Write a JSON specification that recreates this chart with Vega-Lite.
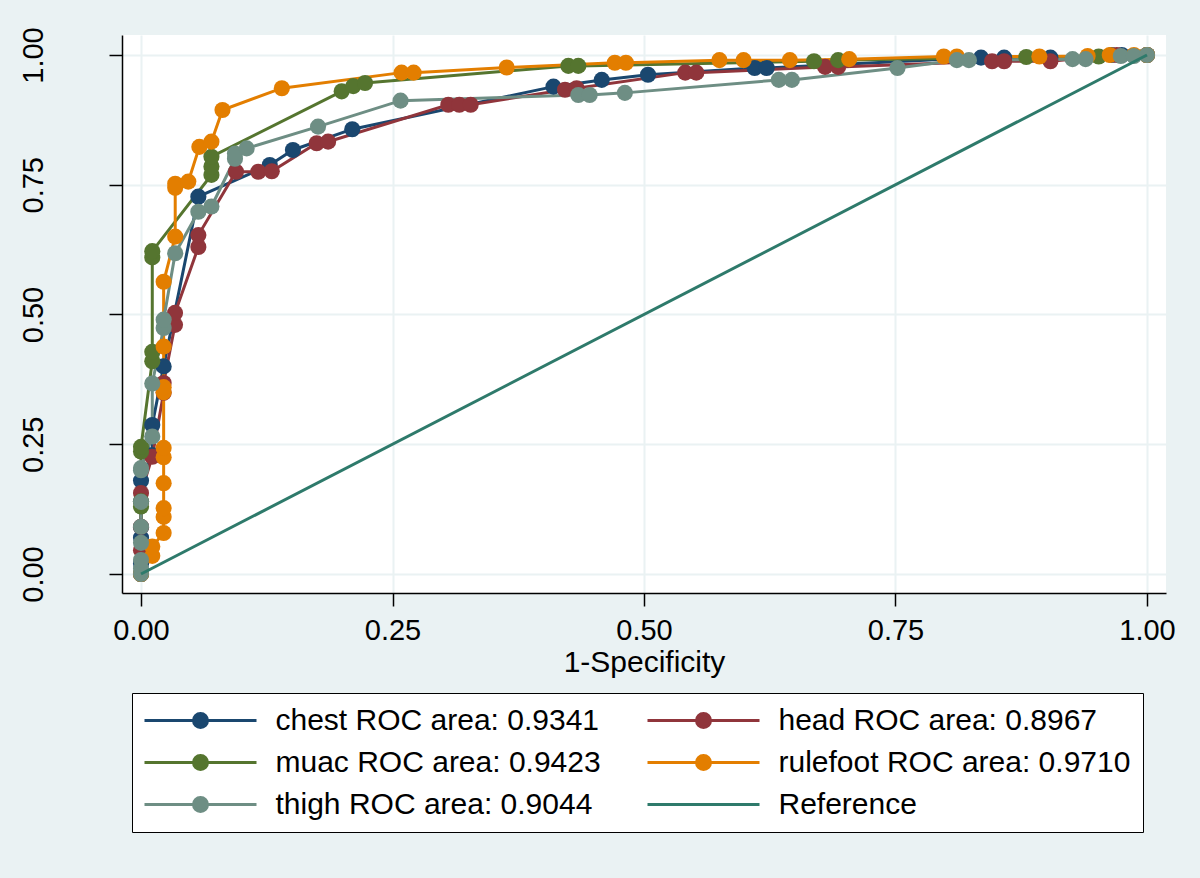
{
  "$schema": "https://vega.github.io/schema/vega-lite/v6.json",
  "width": 1044,
  "height": 558,
  "autosize": {"type": "none"},
  "padding": {"left": 122, "top": 35, "right": 34, "bottom": 285},
  "background": "#eaf2f3",
  "config": {
    "view": {"stroke": null, "fill": "white"},
    "font": "Liberation Sans",
    "axis": {
      "domainColor": "black", "domainWidth": 1.5,
      "tickColor": "black", "tickWidth": 1.5, "tickSize": 13,
      "labelFont": "Liberation Sans", "labelFontSize": 29, "labelColor": "black",
      "titleFont": "Liberation Sans", "titleFontSize": 30, "titleFontWeight": "normal", "titleColor": "black",
      "gridColor": "#eaf2f3", "gridWidth": 2,
      "labelFlush": false, "labelOverlap": false
    }
  },
  "datasets": {
    "roc": [
      {"s": "chest ROC area: 0.9341", "x": 0, "y": 0},
      {"s": "chest ROC area: 0.9341", "x": 0, "y": 0.02},
      {"s": "chest ROC area: 0.9341", "x": 0, "y": 0.07},
      {"s": "chest ROC area: 0.9341", "x": 0, "y": 0.09},
      {"s": "chest ROC area: 0.9341", "x": 0, "y": 0.14},
      {"s": "chest ROC area: 0.9341", "x": 0, "y": 0.18},
      {"s": "chest ROC area: 0.9341", "x": 0.0112, "y": 0.229},
      {"s": "chest ROC area: 0.9341", "x": 0.0112, "y": 0.287},
      {"s": "chest ROC area: 0.9341", "x": 0.0225, "y": 0.40},
      {"s": "chest ROC area: 0.9341", "x": 0.057, "y": 0.727},
      {"s": "chest ROC area: 0.9341", "x": 0.128, "y": 0.788},
      {"s": "chest ROC area: 0.9341", "x": 0.151, "y": 0.817},
      {"s": "chest ROC area: 0.9341", "x": 0.21, "y": 0.857},
      {"s": "chest ROC area: 0.9341", "x": 0.41, "y": 0.939},
      {"s": "chest ROC area: 0.9341", "x": 0.458, "y": 0.952},
      {"s": "chest ROC area: 0.9341", "x": 0.504, "y": 0.962},
      {"s": "chest ROC area: 0.9341", "x": 0.61, "y": 0.975},
      {"s": "chest ROC area: 0.9341", "x": 0.622, "y": 0.975},
      {"s": "chest ROC area: 0.9341", "x": 0.835, "y": 0.995},
      {"s": "chest ROC area: 0.9341", "x": 0.858, "y": 0.995},
      {"s": "chest ROC area: 0.9341", "x": 0.904, "y": 0.995},
      {"s": "chest ROC area: 0.9341", "x": 0.965, "y": 1},
      {"s": "chest ROC area: 0.9341", "x": 0.975, "y": 1},
      {"s": "chest ROC area: 0.9341", "x": 1, "y": 1},
      {"s": "head ROC area: 0.8967", "x": 0, "y": 0},
      {"s": "head ROC area: 0.8967", "x": 0, "y": 0.046},
      {"s": "head ROC area: 0.8967", "x": 0, "y": 0.091},
      {"s": "head ROC area: 0.8967", "x": 0, "y": 0.156},
      {"s": "head ROC area: 0.8967", "x": 0.0112, "y": 0.226},
      {"s": "head ROC area: 0.8967", "x": 0.0225, "y": 0.349},
      {"s": "head ROC area: 0.8967", "x": 0.0225, "y": 0.368},
      {"s": "head ROC area: 0.8967", "x": 0.0338, "y": 0.48},
      {"s": "head ROC area: 0.8967", "x": 0.0338, "y": 0.503},
      {"s": "head ROC area: 0.8967", "x": 0.057, "y": 0.63},
      {"s": "head ROC area: 0.8967", "x": 0.057, "y": 0.653},
      {"s": "head ROC area: 0.8967", "x": 0.0944, "y": 0.775},
      {"s": "head ROC area: 0.8967", "x": 0.1166, "y": 0.775},
      {"s": "head ROC area: 0.8967", "x": 0.13, "y": 0.776},
      {"s": "head ROC area: 0.8967", "x": 0.1746, "y": 0.83},
      {"s": "head ROC area: 0.8967", "x": 0.186, "y": 0.833},
      {"s": "head ROC area: 0.8967", "x": 0.3055, "y": 0.904},
      {"s": "head ROC area: 0.8967", "x": 0.3164, "y": 0.904},
      {"s": "head ROC area: 0.8967", "x": 0.3277, "y": 0.904},
      {"s": "head ROC area: 0.8967", "x": 0.4215, "y": 0.933},
      {"s": "head ROC area: 0.8967", "x": 0.433, "y": 0.936},
      {"s": "head ROC area: 0.8967", "x": 0.541, "y": 0.966},
      {"s": "head ROC area: 0.8967", "x": 0.552, "y": 0.966},
      {"s": "head ROC area: 0.8967", "x": 0.68, "y": 0.977},
      {"s": "head ROC area: 0.8967", "x": 0.693, "y": 0.977},
      {"s": "head ROC area: 0.8967", "x": 0.846, "y": 0.988},
      {"s": "head ROC area: 0.8967", "x": 0.858, "y": 0.988},
      {"s": "head ROC area: 0.8967", "x": 0.904, "y": 0.988},
      {"s": "head ROC area: 0.8967", "x": 0.97, "y": 1},
      {"s": "head ROC area: 0.8967", "x": 1, "y": 1},
      {"s": "muac ROC area: 0.9423", "x": 0, "y": 0},
      {"s": "muac ROC area: 0.9423", "x": 0, "y": 0.13},
      {"s": "muac ROC area: 0.9423", "x": 0, "y": 0.14},
      {"s": "muac ROC area: 0.9423", "x": 0, "y": 0.236},
      {"s": "muac ROC area: 0.9423", "x": 0, "y": 0.245},
      {"s": "muac ROC area: 0.9423", "x": 0.0112, "y": 0.41},
      {"s": "muac ROC area: 0.9423", "x": 0.0112, "y": 0.428},
      {"s": "muac ROC area: 0.9423", "x": 0.0112, "y": 0.61},
      {"s": "muac ROC area: 0.9423", "x": 0.0112, "y": 0.622},
      {"s": "muac ROC area: 0.9423", "x": 0.07, "y": 0.769},
      {"s": "muac ROC area: 0.9423", "x": 0.07, "y": 0.785},
      {"s": "muac ROC area: 0.9423", "x": 0.07, "y": 0.804},
      {"s": "muac ROC area: 0.9423", "x": 0.1995, "y": 0.93},
      {"s": "muac ROC area: 0.9423", "x": 0.211, "y": 0.94},
      {"s": "muac ROC area: 0.9423", "x": 0.2227, "y": 0.946},
      {"s": "muac ROC area: 0.9423", "x": 0.4248, "y": 0.979},
      {"s": "muac ROC area: 0.9423", "x": 0.4347, "y": 0.979},
      {"s": "muac ROC area: 0.9423", "x": 0.669, "y": 0.988},
      {"s": "muac ROC area: 0.9423", "x": 0.693, "y": 0.99},
      {"s": "muac ROC area: 0.9423", "x": 0.88, "y": 0.996},
      {"s": "muac ROC area: 0.9423", "x": 0.952, "y": 0.997},
      {"s": "muac ROC area: 0.9423", "x": 1, "y": 1},
      {"s": "rulefoot ROC area: 0.9710", "x": 0, "y": 0},
      {"s": "rulefoot ROC area: 0.9710", "x": 0.0112, "y": 0.035},
      {"s": "rulefoot ROC area: 0.9710", "x": 0.0112, "y": 0.053},
      {"s": "rulefoot ROC area: 0.9710", "x": 0.0225, "y": 0.079},
      {"s": "rulefoot ROC area: 0.9710", "x": 0.0225, "y": 0.11},
      {"s": "rulefoot ROC area: 0.9710", "x": 0.0225, "y": 0.127},
      {"s": "rulefoot ROC area: 0.9710", "x": 0.0225, "y": 0.175},
      {"s": "rulefoot ROC area: 0.9710", "x": 0.0225, "y": 0.225},
      {"s": "rulefoot ROC area: 0.9710", "x": 0.0225, "y": 0.243},
      {"s": "rulefoot ROC area: 0.9710", "x": 0.0225, "y": 0.35},
      {"s": "rulefoot ROC area: 0.9710", "x": 0.0225, "y": 0.36},
      {"s": "rulefoot ROC area: 0.9710", "x": 0.0225, "y": 0.438},
      {"s": "rulefoot ROC area: 0.9710", "x": 0.0225, "y": 0.563},
      {"s": "rulefoot ROC area: 0.9710", "x": 0.034, "y": 0.65},
      {"s": "rulefoot ROC area: 0.9710", "x": 0.034, "y": 0.744},
      {"s": "rulefoot ROC area: 0.9710", "x": 0.034, "y": 0.752},
      {"s": "rulefoot ROC area: 0.9710", "x": 0.047, "y": 0.756},
      {"s": "rulefoot ROC area: 0.9710", "x": 0.058, "y": 0.823},
      {"s": "rulefoot ROC area: 0.9710", "x": 0.07, "y": 0.833},
      {"s": "rulefoot ROC area: 0.9710", "x": 0.081, "y": 0.894},
      {"s": "rulefoot ROC area: 0.9710", "x": 0.14, "y": 0.936},
      {"s": "rulefoot ROC area: 0.9710", "x": 0.259, "y": 0.966},
      {"s": "rulefoot ROC area: 0.9710", "x": 0.271, "y": 0.966},
      {"s": "rulefoot ROC area: 0.9710", "x": 0.3635, "y": 0.976},
      {"s": "rulefoot ROC area: 0.9710", "x": 0.471, "y": 0.985},
      {"s": "rulefoot ROC area: 0.9710", "x": 0.482, "y": 0.985},
      {"s": "rulefoot ROC area: 0.9710", "x": 0.575, "y": 0.99},
      {"s": "rulefoot ROC area: 0.9710", "x": 0.599, "y": 0.99},
      {"s": "rulefoot ROC area: 0.9710", "x": 0.645, "y": 0.99},
      {"s": "rulefoot ROC area: 0.9710", "x": 0.704, "y": 0.992},
      {"s": "rulefoot ROC area: 0.9710", "x": 0.798, "y": 0.997},
      {"s": "rulefoot ROC area: 0.9710", "x": 0.811, "y": 0.997},
      {"s": "rulefoot ROC area: 0.9710", "x": 0.893, "y": 0.997},
      {"s": "rulefoot ROC area: 0.9710", "x": 0.941, "y": 0.998},
      {"s": "rulefoot ROC area: 0.9710", "x": 0.963, "y": 1},
      {"s": "rulefoot ROC area: 0.9710", "x": 0.987, "y": 1},
      {"s": "rulefoot ROC area: 0.9710", "x": 1, "y": 1},
      {"s": "thigh ROC area: 0.9044", "x": 0, "y": 0},
      {"s": "thigh ROC area: 0.9044", "x": 0, "y": 0.01},
      {"s": "thigh ROC area: 0.9044", "x": 0, "y": 0.027},
      {"s": "thigh ROC area: 0.9044", "x": 0, "y": 0.06},
      {"s": "thigh ROC area: 0.9044", "x": 0, "y": 0.091},
      {"s": "thigh ROC area: 0.9044", "x": 0, "y": 0.139},
      {"s": "thigh ROC area: 0.9044", "x": 0, "y": 0.2},
      {"s": "thigh ROC area: 0.9044", "x": 0, "y": 0.204},
      {"s": "thigh ROC area: 0.9044", "x": 0.0112, "y": 0.265},
      {"s": "thigh ROC area: 0.9044", "x": 0.0112, "y": 0.367},
      {"s": "thigh ROC area: 0.9044", "x": 0.0225, "y": 0.474},
      {"s": "thigh ROC area: 0.9044", "x": 0.0225, "y": 0.49},
      {"s": "thigh ROC area: 0.9044", "x": 0.034, "y": 0.618},
      {"s": "thigh ROC area: 0.9044", "x": 0.057, "y": 0.698},
      {"s": "thigh ROC area: 0.9044", "x": 0.07, "y": 0.708},
      {"s": "thigh ROC area: 0.9044", "x": 0.0934, "y": 0.80},
      {"s": "thigh ROC area: 0.9044", "x": 0.0934, "y": 0.81},
      {"s": "thigh ROC area: 0.9044", "x": 0.105, "y": 0.82},
      {"s": "thigh ROC area: 0.9044", "x": 0.176, "y": 0.862},
      {"s": "thigh ROC area: 0.9044", "x": 0.258, "y": 0.912},
      {"s": "thigh ROC area: 0.9044", "x": 0.4347, "y": 0.923},
      {"s": "thigh ROC area: 0.9044", "x": 0.446, "y": 0.923},
      {"s": "thigh ROC area: 0.9044", "x": 0.481, "y": 0.927},
      {"s": "thigh ROC area: 0.9044", "x": 0.634, "y": 0.952},
      {"s": "thigh ROC area: 0.9044", "x": 0.647, "y": 0.952},
      {"s": "thigh ROC area: 0.9044", "x": 0.752, "y": 0.975},
      {"s": "thigh ROC area: 0.9044", "x": 0.811, "y": 0.99},
      {"s": "thigh ROC area: 0.9044", "x": 0.823, "y": 0.99},
      {"s": "thigh ROC area: 0.9044", "x": 0.926, "y": 0.992},
      {"s": "thigh ROC area: 0.9044", "x": 0.939, "y": 0.992},
      {"s": "thigh ROC area: 0.9044", "x": 0.974, "y": 0.998},
      {"s": "thigh ROC area: 0.9044", "x": 0.987, "y": 0.998},
      {"s": "thigh ROC area: 0.9044", "x": 1, "y": 1}
    ],
    "ref": [
      {"s": "Reference", "x": 0, "y": 0},
      {"s": "Reference", "x": 1, "y": 1}
    ]
  },
  "encoding": {
    "x": {
      "field": "x", "type": "quantitative",
      "scale": {"domain": [-0.0189, 1.0189], "nice": false, "zero": false},
      "axis": {"title": "1-Specificity", "values": [0, 0.25, 0.5, 0.75, 1], "format": ".2f", "labelPadding": 10, "titlePadding": 2, "grid": true}
    },
    "y": {
      "field": "y", "type": "quantitative",
      "scale": {"domain": [-0.0366, 1.0385], "nice": false, "zero": false},
      "axis": {"title": null, "values": [0, 0.25, 0.5, 0.75, 1], "format": ".2f", "labelAngle": -90, "labelAlign": "center", "labelBaseline": "bottom", "labelPadding": 61, "grid": true}
    }
  },
  "layer": [
    {
      "data": {"name": "roc"},
      "mark": {"type": "line", "strokeWidth": 3},
      "encoding": {
        "color": {
          "field": "s", "type": "nominal",
          "scale": {
            "domain": ["chest ROC area: 0.9341", "muac ROC area: 0.9423", "thigh ROC area: 0.9044", "head ROC area: 0.8967", "rulefoot ROC area: 0.9710", "Reference"],
            "range": ["#1a476f", "#55752f", "#6e8e84", "#90353b", "#e37e00", "#2e7a6b"]
          },
          "legend": {
            "orient": "none", "legendX": 10, "legendY": 658,
            "title": null, "columns": 2, "columnPadding": 40, "rowPadding": 12,
            "padding": 12.5, "strokeColor": "black", "fillColor": "white",
            "symbolType": "M-1.5,0H9.7M4.8,0A0.7,0.7,0,1,1,3.4,0A0.7,0.7,0,1,1,4.8,0Z",
            "symbolSize": 400, "symbolStrokeWidth": 3,
            "labelFont": "Liberation Sans", "labelFontSize": 30, "labelColor": "black",
            "labelOffset": 101, "labelLimit": 800,
            "encode": {
              "symbols": {
                "update": {
                  "fill": {"value": {"expr": "scale('color', datum.value)"}},
                  "stroke": {"value": {"expr": "scale('color', datum.value)"}},
                  "strokeWidth": {"value": 3},
                  "size": {"value": 400},
                  "opacity": {"value": 1}
                }
              }
            }
          }
        }
      }
    },
    {
      "data": {"name": "roc"},
      "mark": {"type": "point", "filled": true, "size": 260, "opacity": 1, "strokeWidth": 0},
      "encoding": {
        "color": {"field": "s", "type": "nominal"}
      }
    },
    {
      "data": {"name": "ref"},
      "mark": {"type": "line", "strokeWidth": 3},
      "encoding": {
        "color": {"field": "s", "type": "nominal"}
      }
    },
    {
      "data": {"name": "ref"},
      "mark": {"type": "point", "filled": true, "size": 0, "strokeWidth": 0},
      "encoding": {
        "shape": {
          "field": "s", "type": "nominal",
          "scale": {
            "domain": ["chest ROC area: 0.9341", "muac ROC area: 0.9423", "thigh ROC area: 0.9044", "head ROC area: 0.8967", "rulefoot ROC area: 0.9710", "Reference"],
            "range": [
              "M-1.5,0H9.7M4.8,0A0.7,0.7,0,1,1,3.4,0A0.7,0.7,0,1,1,4.8,0Z",
              "M-1.5,0H9.7M4.8,0A0.7,0.7,0,1,1,3.4,0A0.7,0.7,0,1,1,4.8,0Z",
              "M-1.5,0H9.7M4.8,0A0.7,0.7,0,1,1,3.4,0A0.7,0.7,0,1,1,4.8,0Z",
              "M-1.5,0H9.7M4.8,0A0.7,0.7,0,1,1,3.4,0A0.7,0.7,0,1,1,4.8,0Z",
              "M-1.5,0H9.7M4.8,0A0.7,0.7,0,1,1,3.4,0A0.7,0.7,0,1,1,4.8,0Z",
              "M-1.5,0H9.7"
            ]
          }
        }
      }
    }
  ]
}
